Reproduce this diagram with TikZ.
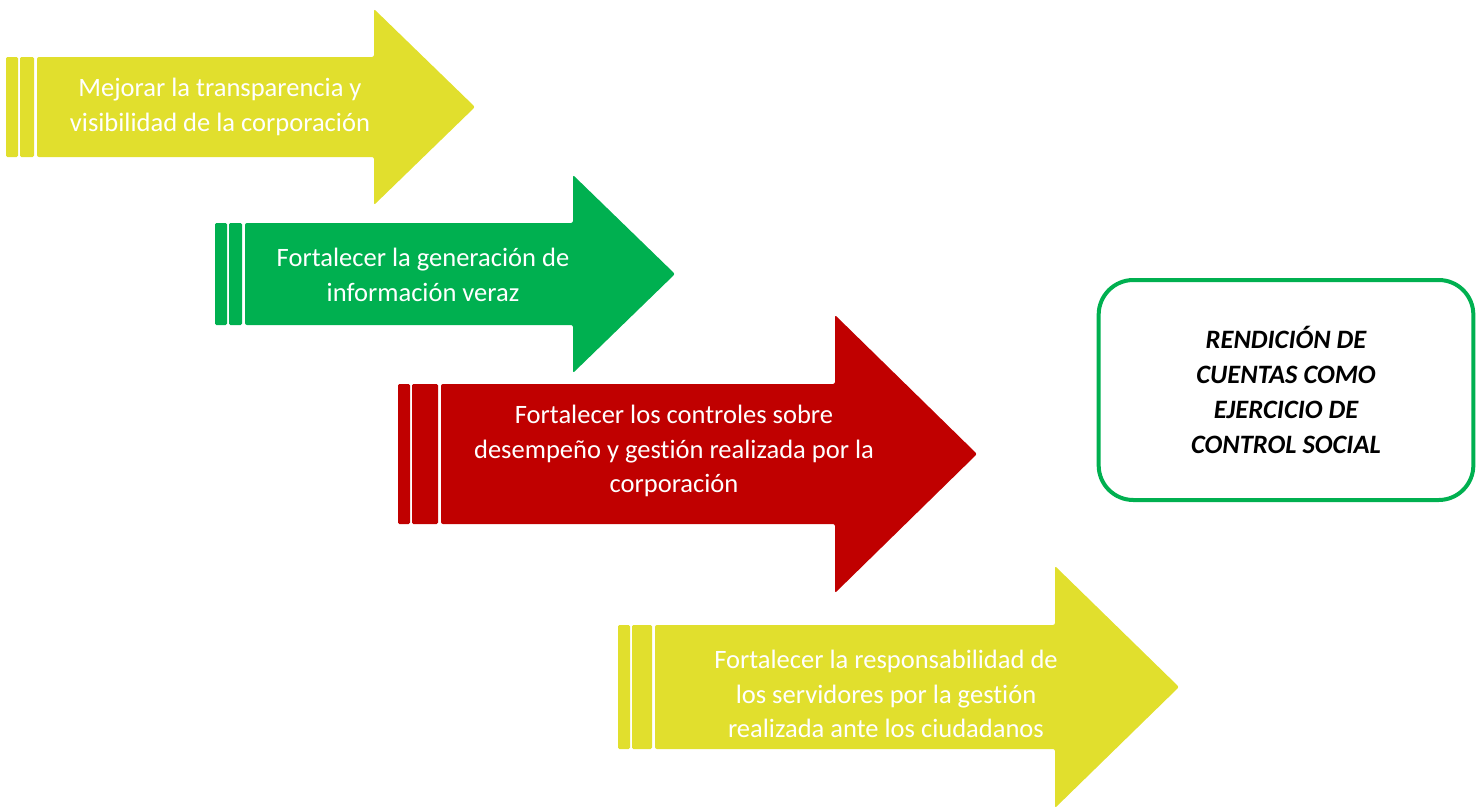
\documentclass[tikz,border=0pt]{standalone}
\usepackage{fontspec}
\setmainfont{Carlito}[Ligatures=NoCommon]
\definecolor{myyellow}{HTML}{E1DF2D}
\definecolor{mygreen}{HTML}{00B050}
\definecolor{myred}{HTML}{C00000}
\tikzset{
  arrowtext/.style={text=white, align=center, inner sep=0pt,
    font=\fontsize{19.9}{26}\selectfont},
  goalbox/.style={draw=mygreen, line width=3pt, rounded corners=26pt,
    minimum width=281pt, minimum height=165pt, align=center,
    font=\fontsize{19.9}{26.3}\selectfont\bfseries\itshape}
}
% #1 colour, #2 left of tail, #3 left of body, #4 base of head,
% #5 middle, #6 half body, #7 half head
\newcommand{\stripedarrow}[7]{%
  \fill[#1, rounded corners=1pt] (#2,#5-#6) rectangle ({#2+12},#5+#6);
  \fill[#1, rounded corners=1pt] ({#2+14},#5-#6) rectangle ({#3-3},#5+#6);
  \fill[#1, rounded corners=1.5pt] (#3,#5-#6) -- (#4,#5-#6) -- (#4,#5-#7)
    -- ({#4+#7+3},#5) -- (#4,#5+#7) -- (#4,#5+#6) -- (#3,#5+#6) -- cycle;
}

\begin{document}
\begin{tikzpicture}[x=0.75pt,y=0.75pt,yscale=-1]
\useasboundingbox (0,0) rectangle (1484,810);
\stripedarrow{myyellow}{6}{37}{374}{107}{50}{98}
\stripedarrow{mygreen}{215}{245}{573}{274}{51}{99}
\stripedarrow{myred}{398}{441}{835}{454}{70}{139}
\stripedarrow{myyellow}{618}{655}{1055}{687}{62}{121}
\node[arrowtext] (mejorar) at (220,107) {Mejorar la transparencia y\\visibilidad de la corporación};
\node[arrowtext] (informacion) at (423,275) {Fortalecer la generación de\\información veraz};
\node[arrowtext] (controles) at (674,451) {Fortalecer los controles sobre\\desempeño y gestión realizada por la\\corporación};
\node[arrowtext] (responsabilidad) at (886,694) {Fortalecer la responsabilidad de\\los servidores por la gestión\\realizada ante los ciudadanos};
\node[goalbox] (rendicion) at (1286,390) {RENDICIÓN DE\\CUENTAS COMO\\EJERCICIO DE\\CONTROL SOCIAL};
\end{tikzpicture}
\end{document}
